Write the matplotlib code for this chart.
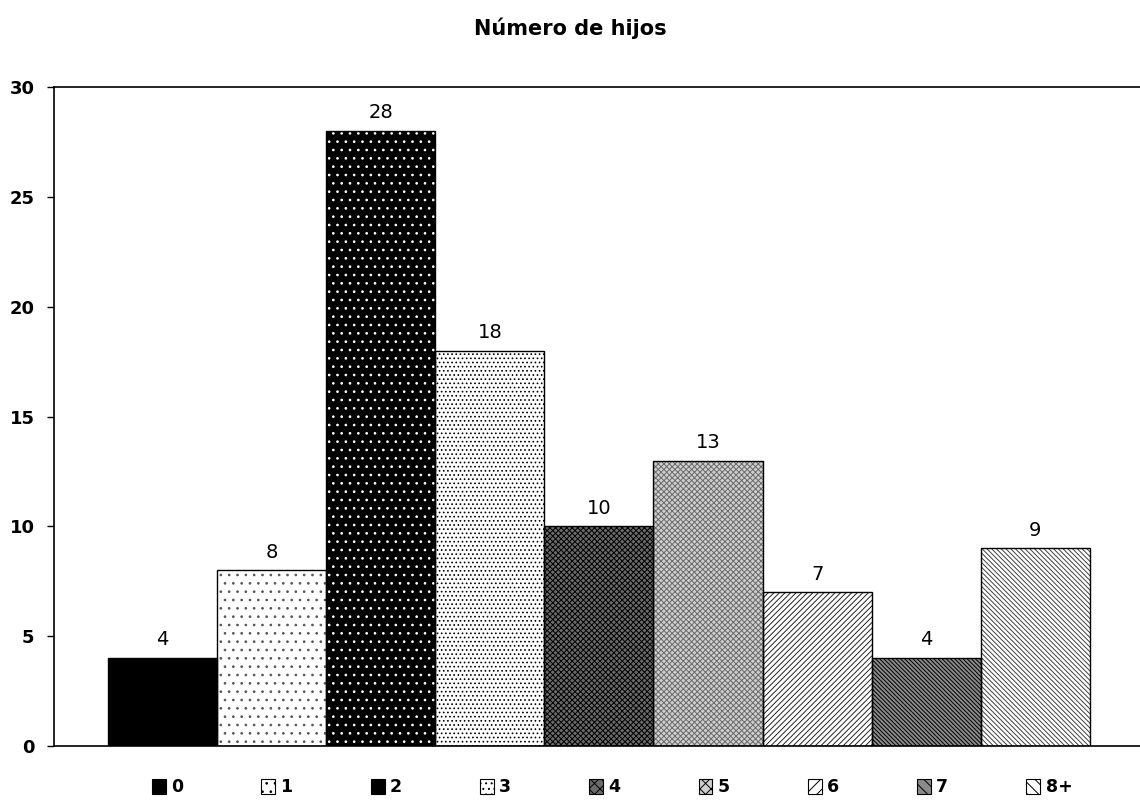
import matplotlib.pyplot as plt
from matplotlib.patches import Patch

# Datos del gráfico
categorias = ['0', '1', '2', '3', '4', '5', '6', '7', '8+']
hijos = [4, 8, 28, 18, 10, 13, 7, 4, 9]

# Estilo de cada barra: fondo, trama y color de la trama
fondos = ['black', 'white', 'black', 'white', '#6a6a6a', '#cfcfcf', 'white', '#8a8a8a', 'white']
tramas = ['', '..', '..', '....', 'xxxxxx', 'xxxxxx', '//////', '\\\\\\\\\\\\\\\\', '\\\\\\\\\\\\\\']
color_trama = ['black', '#555555', 'white', 'black', 'black', '#6a6a6a', '#222222', 'black', '#404040']

plt.rcParams['font.family'] = 'DejaVu Sans'
plt.rcParams['hatch.linewidth'] = 0.7

fig = plt.figure(figsize=(11.4, 8.08), dpi=100)
ax = fig.add_axes([0.0474, 0.0767, 0.9526, 0.8153])

x = list(range(len(categorias)))
handles = []
for i in x:
    # relleno con trama
    ax.bar(i, hijos[i], width=1.0, color=fondos[i], hatch=tramas[i],
           edgecolor=color_trama[i], linewidth=0, zorder=2)
    # contorno negro
    ax.bar(i, hijos[i], width=1.0, fill=False, edgecolor='black',
           linewidth=1.0, zorder=3)
    ax.text(i, hijos[i] + 0.4, str(hijos[i]), ha='center', va='bottom',
            fontsize=14)
    handles.append(Patch(facecolor=fondos[i], hatch=tramas[i][:3],
                         edgecolor='black', linewidth=0.8, label=categorias[i]))

ax.set_xlim(-0.995, 8.96)
ax.set_ylim(0, 30)
ax.set_yticks([0, 5, 10, 15, 20, 25, 30])
ax.set_xticks([])
for lbl in ax.get_yticklabels():
    lbl.set_fontweight('bold')
ax.tick_params(axis='y', labelsize=13, length=5, width=1, pad=9)
ax.spines['right'].set_visible(False)
for s in ['left', 'top', 'bottom']:
    ax.spines[s].set_linewidth(1.2)

fig.text(0.5, 0.965, 'Número de hijos', ha='center', va='center',
         fontsize=15, fontweight='bold')

fig.legend(handles=handles, loc='lower center', bbox_to_anchor=(0.537, -0.005),
           ncol=9, frameon=False, handlelength=0.8, handleheight=0.9,
           handletextpad=0.3, columnspacing=4.5,
           prop={'weight': 'bold', 'size': 12.5})

plt.savefig('out.png', dpi=100)
